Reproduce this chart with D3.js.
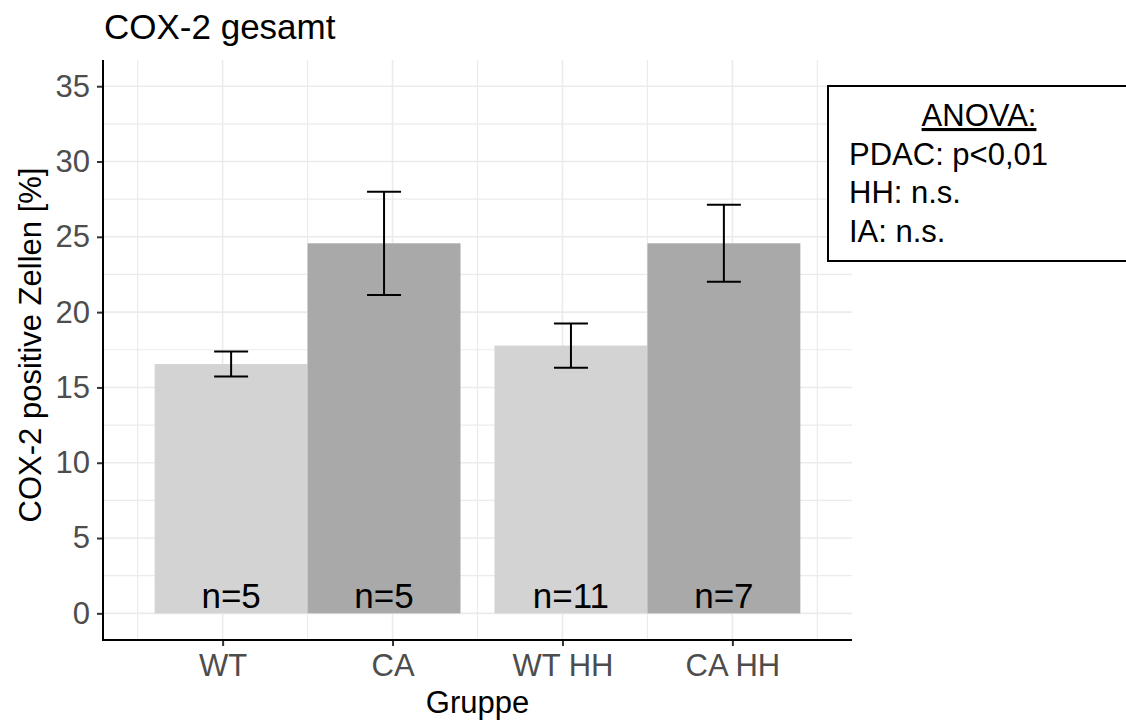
<!DOCTYPE html>
<html>
<head>
<meta charset="UTF-8">
<title>COX-2 gesamt</title>
<script src="https://cdn.jsdelivr.net/npm/d3@7"></script>
<style>
    body { margin: 0; background: #fff; }
    text { font-family: "Liberation Sans", Arial, sans-serif; }
</style>
</head>
<body>
<div id="chart"></div>
<script>
// data
var groups = ["WT", "CA", "WT HH", "CA HH"];
var means  = [16.55, 24.57, 17.78, 24.57];
var errs   = [0.83, 3.43, 1.47, 2.56];
var counts = [5, 5, 11, 7];
var kinds  = ["WT", "CA", "WT", "CA"];   // fill
var yTicks = [0, 5, 10, 15, 20, 25, 30, 35];
var anovaLines = ["PDAC: p<0,01", "HH: n.s.", "IA: n.s."];

var W = 1126, H = 727;
// panel edges (note: "top" is reserved on window, so use p* names)
var pLeft = 103, pRight = 852, pTop = 60, pBottom = 640;

var svg = d3.select("#chart").append("svg")
    .attr("width", W).attr("height", H);

var x = d3.scaleLinear().domain([0.296, 4.704]).range([pLeft, pRight]);
var y = d3.scaleLinear().domain([-1.77, 36.74]).range([pBottom, pTop]);
var fill = d3.scaleOrdinal().domain(["WT", "CA"]).range(["#d3d3d3", "#a9a9a9"]);

var barW = 0.9, dodge = 0.05;
function centre(i) { return (i + 1) + (kinds[i] == "WT" ? dodge : -dodge); }

// grid
var grid = svg.append("g");
var minorY = d3.range(2.5, 35, 5);
var minorX = d3.range(0.5, 5, 1);
grid.selectAll(".my").data(minorY).enter().append("line")
    .attr("x1", pLeft).attr("x2", pRight)
    .attr("y1", d => y(d)).attr("y2", d => y(d))
    .attr("stroke", "#ebebeb").attr("stroke-width", 1.2);
grid.selectAll(".mx").data(minorX).enter().append("line")
    .attr("y1", pTop).attr("y2", pBottom)
    .attr("x1", d => x(d)).attr("x2", d => x(d))
    .attr("stroke", "#ebebeb").attr("stroke-width", 1.2);
grid.selectAll(".gy").data(yTicks).enter().append("line")
    .attr("x1", pLeft).attr("x2", pRight)
    .attr("y1", d => y(d)).attr("y2", d => y(d))
    .attr("stroke", "#ebebeb").attr("stroke-width", 1.6);
grid.selectAll(".gx").data(groups).enter().append("line")
    .attr("y1", pTop).attr("y2", pBottom)
    .attr("x1", (d, i) => x(i + 1)).attr("x2", (d, i) => x(i + 1))
    .attr("stroke", "#ebebeb").attr("stroke-width", 1.6);

// bars
svg.selectAll(".bar").data(means).enter().append("rect")
    .attr("x", (d, i) => x(centre(i) - barW / 2))
    .attr("width", x(barW) - x(0))
    .attr("y", d => y(d))
    .attr("height", d => y(0) - y(d))
    .attr("fill", (d, i) => fill(kinds[i]));

// error bars
var eb = svg.selectAll(".eb").data(means).enter().append("g")
    .attr("stroke", "#000").attr("stroke-width", 2).attr("fill", "none");
eb.append("line")
    .attr("x1", (d, i) => x(centre(i))).attr("x2", (d, i) => x(centre(i)))
    .attr("y1", (d, i) => y(d + errs[i])).attr("y2", (d, i) => y(d - errs[i]));
eb.append("line")
    .attr("x1", (d, i) => x(centre(i) - 0.1)).attr("x2", (d, i) => x(centre(i) + 0.1))
    .attr("y1", (d, i) => y(d + errs[i])).attr("y2", (d, i) => y(d + errs[i]));
eb.append("line")
    .attr("x1", (d, i) => x(centre(i) - 0.1)).attr("x2", (d, i) => x(centre(i) + 0.1))
    .attr("y1", (d, i) => y(d - errs[i])).attr("y2", (d, i) => y(d - errs[i]));

// n labels
svg.selectAll(".n").data(counts).enter().append("text")
    .attr("x", (d, i) => x(centre(i)))
    .attr("y", y(0) - 5)
    .attr("text-anchor", "middle")
    .style("font-size", "35px")
    .attr("fill", "#000")
    .text(d => "n=" + d);

// axes
var yAxis = svg.append("g").attr("transform", "translate(" + pLeft + ",0)")
    .call(d3.axisLeft(y).tickValues(yTicks).tickSize(6).tickPadding(7));
var xAxis = svg.append("g").attr("transform", "translate(0," + pBottom + ")")
    .call(d3.axisBottom(x).tickValues([1, 2, 3, 4]).tickFormat((d, i) => groups[i])
        .tickSize(6).tickPadding(8));
[yAxis, xAxis].forEach(function (a) {
    a.select(".domain").remove();
    a.selectAll(".tick line").attr("stroke", "#333").attr("stroke-width", 2);
    a.selectAll(".tick text").attr("fill", "#4d4d4d")
        .style("font-size", "31px").style("font-family", "'Liberation Sans', Arial, sans-serif");
});
svg.append("line").attr("x1", pLeft).attr("x2", pLeft).attr("y1", pTop).attr("y2", pBottom + 1)
    .attr("stroke", "#000").attr("stroke-width", 2);
svg.append("line").attr("x1", pLeft - 1).attr("x2", pRight).attr("y1", pBottom).attr("y2", pBottom)
    .attr("stroke", "#000").attr("stroke-width", 2);

// titles
svg.append("text").attr("x", 104).attr("y", 39)
    .style("font-size", "35px").text("COX-2 gesamt");
svg.append("text").attr("x", (pLeft + pRight) / 2).attr("y", 713)
    .attr("text-anchor", "middle").style("font-size", "31px").text("Gruppe");
svg.append("text")
    .attr("transform", "translate(41,345) rotate(-90)")
    .attr("text-anchor", "middle").style("font-size", "31px")
    .text("COX-2 positive Zellen [%]");

// ANOVA box
var box = svg.append("g");
box.append("rect").attr("x", 828).attr("y", 86).attr("width", 310).attr("height", 175)
    .attr("fill", "#fff").attr("stroke", "#000").attr("stroke-width", 2);
box.append("text").attr("x", 979).attr("y", 126).attr("text-anchor", "middle")
    .style("font-size", "31px").style("text-decoration", "underline").text("ANOVA:");
box.selectAll(".al").data(anovaLines).enter().append("text")
    .attr("x", 849).attr("y", (d, i) => 165 + i * 38.3)
    .style("font-size", "31px").text(d => d);
</script>
</body>
</html>
